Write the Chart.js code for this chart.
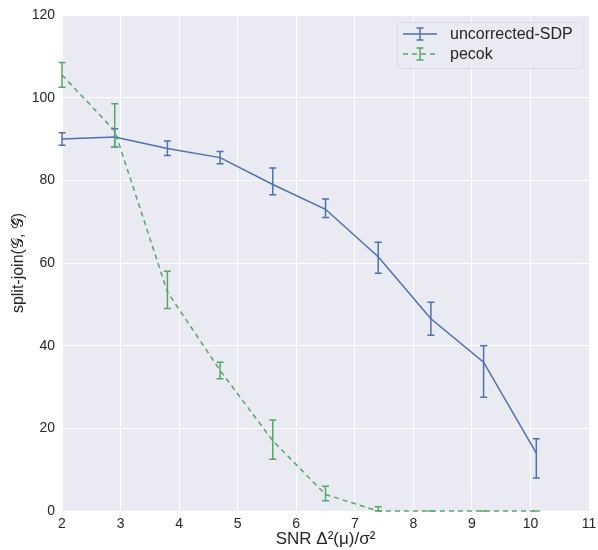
<!DOCTYPE html>
<html>
<head>
<meta charset="utf-8">
<script src="https://cdn.jsdelivr.net/npm/chart.js@4"></script>
<style>
  html, body { margin: 0; padding: 0; background: #fff; }
  #wrap { width: 598px; height: 550px; }
</style>
</head>
<body>
<div id="wrap"><canvas id="chart" width="598" height="550"></canvas></div>
<script>
// SNR values (x)
const snr = [2.0, 2.9, 3.8, 4.7, 5.6, 6.5, 7.4, 8.3, 9.2, 10.1];

// uncorrected-SDP
const sdpMean = [90, 90.5, 87.7, 85.5, 79, 73, 61.5, 46.5, 36, 14];
const sdpLow  = [88.5, 88, 86, 84, 76.5, 71, 57.5, 42.5, 27.5, 8];
const sdpHigh = [91.5, 92.5, 89.5, 87, 83, 75.5, 65, 50.5, 40, 17.5];

// pecok
const pecokMean = [105.5, 92, 53, 34, 17, 4, 0, 0, 0, 0];
const pecokLow  = [102.5, 88, 49, 32, 12.5, 2.5, 0, 0, 0, 0];
const pecokHigh = [108.5, 98.5, 58, 36, 22, 6, 1, 0, 0, 0];

const xTicks = [2, 3, 4, 5, 6, 7, 8, 9, 10, 11];
const yTicks = [0, 20, 40, 60, 80, 100, 120];

const BLUE = '#4C72B0';
const GREEN = '#55A868';
const FONT = '"Liberation Sans", Arial, sans-serif';

const pts = (ys) => snr.map((x, i) => ({x: x, y: ys[i]}));

// grey background behind the plot area
const bgPlugin = {
  id: 'bg',
  beforeDraw(chart) {
    const {ctx, chartArea: a} = chart;
    ctx.save();
    ctx.fillStyle = '#EAEAF2';
    ctx.fillRect(a.left, a.top, a.right - a.left, a.bottom - a.top);
    ctx.restore();
  }
};

// vertical error bars with caps
const errPlugin = {
  id: 'errbars',
  afterDatasetsDraw(chart) {
    const {ctx, scales} = chart;
    const sets = [
      {lo: sdpLow, hi: sdpHigh, color: BLUE},
      {lo: pecokLow, hi: pecokHigh, color: GREEN}
    ];
    ctx.save();
    sets.forEach(s => {
      ctx.strokeStyle = s.color;
      ctx.lineWidth = 1.5;
      snr.forEach((x, i) => {
        const px = scales.x.getPixelForValue(x);
        const y1 = scales.y.getPixelForValue(s.lo[i]);
        const y2 = scales.y.getPixelForValue(s.hi[i]);
        ctx.beginPath();
        ctx.moveTo(px, y1); ctx.lineTo(px, y2);
        ctx.moveTo(px - 3.5, y1); ctx.lineTo(px + 3.5, y1);
        ctx.moveTo(px - 3.5, y2); ctx.lineTo(px + 3.5, y2);
        ctx.stroke();
      });
    });
    ctx.restore();
  }
};

// legend box in the upper right, matplotlib style
const legendPlugin = {
  id: 'mplLegend',
  afterDraw(chart) {
    const {ctx, chartArea: a} = chart;
    const boxW = 185, boxH = 46;
    const bx = a.right - boxW - 7, by = a.top + 7;
    ctx.save();
    ctx.fillStyle = 'rgba(234,234,242,0.8)';
    ctx.strokeStyle = '#dcdce4';
    ctx.lineWidth = 1;
    ctx.beginPath();
    ctx.rect(bx + 0.5, by + 0.5, boxW, boxH);
    ctx.fill();
    ctx.stroke();

    const items = [
      {label: 'uncorrected-SDP', color: BLUE, dash: []},
      {label: 'pecok', color: GREEN, dash: [5, 4]}
    ];
    items.forEach((it, i) => {
      const cy = by + 12 + i * 20;
      const x0 = bx + 6, x1 = bx + 40, xm = (x0 + x1) / 2;
      ctx.strokeStyle = it.color;
      ctx.lineWidth = 1.5;
      ctx.setLineDash(it.dash);
      ctx.beginPath();
      ctx.moveTo(x0, cy); ctx.lineTo(x1, cy);
      ctx.stroke();
      ctx.setLineDash([]);
      ctx.beginPath();
      ctx.moveTo(xm, cy - 6); ctx.lineTo(xm, cy + 6);
      ctx.moveTo(xm - 3.5, cy - 6); ctx.lineTo(xm + 3.5, cy - 6);
      ctx.moveTo(xm - 3.5, cy + 6); ctx.lineTo(xm + 3.5, cy + 6);
      ctx.stroke();
      ctx.fillStyle = '#262626';
      ctx.font = '16px ' + FONT;
      ctx.textBaseline = 'middle';
      ctx.fillText(it.label, bx + 53, cy + 1);
    });
    ctx.restore();
  }
};

new Chart(document.getElementById('chart'), {
  type: 'line',
  data: {
    datasets: [
      {
        label: 'uncorrected-SDP',
        data: pts(sdpMean),
        borderColor: BLUE,
        borderWidth: 1.5,
        pointRadius: 0,
        fill: false,
        tension: 0
      },
      {
        label: 'pecok',
        data: pts(pecokMean),
        borderColor: GREEN,
        borderWidth: 1.5,
        borderDash: [5, 4],
        pointRadius: 0,
        fill: false,
        tension: 0
      }
    ]
  },
  options: {
    responsive: false,
    animation: false,
    clip: false,
    layout: { padding: { top: 15, right: 9, left: 0, bottom: 0 } },
    plugins: {
      legend: { display: false },
      tooltip: { enabled: false }
    },
    scales: {
      x: {
        type: 'linear',
        min: 2, max: 11,
        afterBuildTicks: (s) => { s.ticks = xTicks.map(v => ({value: v})); },
        afterFit: (s) => { s.height = 39; s.paddingLeft = 0; s.paddingRight = 0; },
        grid: { color: '#ffffff', lineWidth: 1, drawTicks: false },
        border: { display: false },
        ticks: { color: '#262626', font: { family: FONT, size: 14 }, padding: 5, maxRotation: 0 },
        title: {
          display: true,
          text: 'SNR Δ²(μ)/σ²',
          color: '#262626',
          font: { family: FONT, size: 17 },
          padding: { top: 1, bottom: 0 }
        }
      },
      y: {
        min: 0, max: 120,
        afterBuildTicks: (s) => { s.ticks = yTicks.map(v => ({value: v})); },
        afterFit: (s) => { s.width = 62; s.paddingTop = 0; s.paddingBottom = 0; },
        grid: { color: '#ffffff', lineWidth: 1, drawTicks: false },
        border: { display: false },
        ticks: { color: '#262626', font: { family: FONT, size: 14 }, padding: 7 },
        title: {
          display: true,
          text: 'split-join(𝒢, 𝒢̂)',
          color: '#262626',
          font: { family: FONT, size: 16 },
          padding: { top: 9, bottom: 0 }
        }
      }
    }
  },
  plugins: [bgPlugin, errPlugin, legendPlugin]
});
</script>
</body>
</html>
